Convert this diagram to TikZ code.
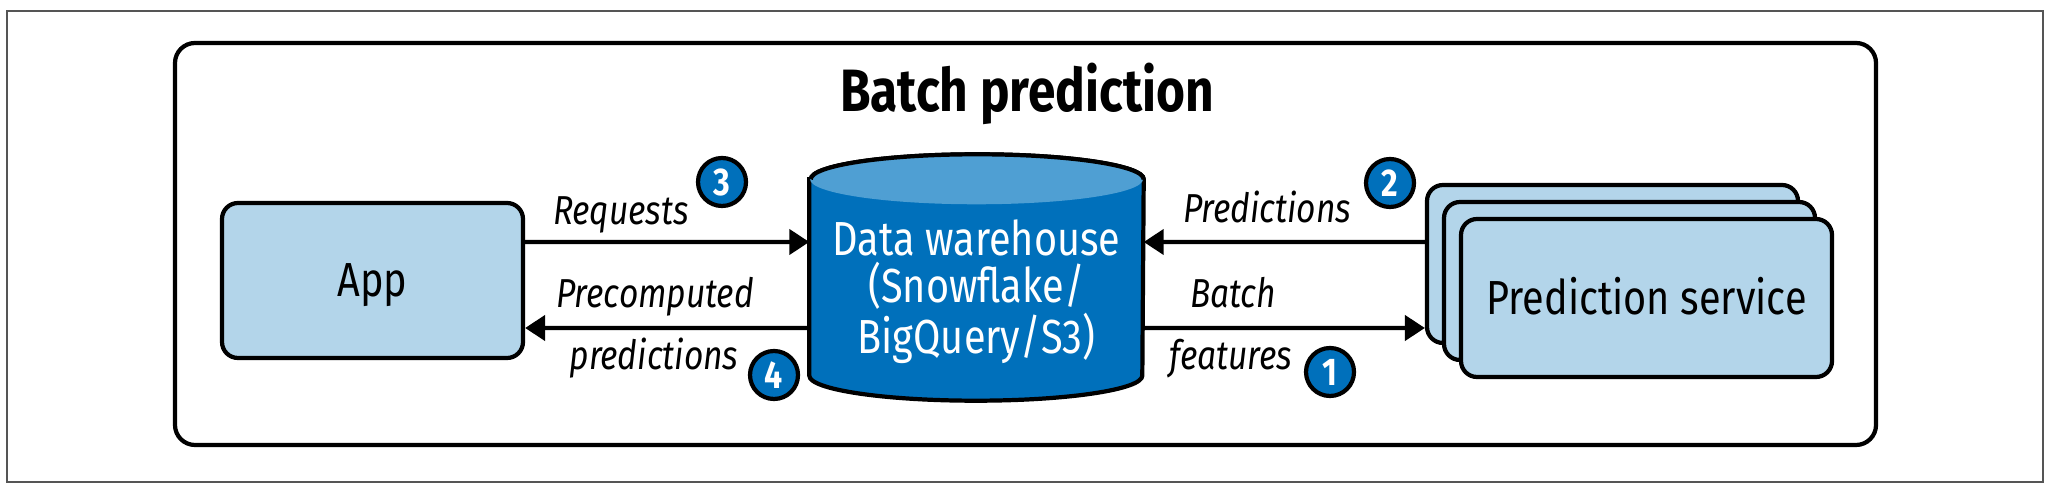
\documentclass[tikz,border=0pt]{standalone}
\usepackage{fontspec}
\setmainfont{Fira Sans}[FakeStretch=0.83]
\usetikzlibrary{arrows.meta}

\definecolor{appblue}{HTML}{B3D5EA}
\definecolor{dwblue}{HTML}{0070BB}
\definecolor{dwtop}{HTML}{4F9FD3}
\definecolor{framegray}{HTML}{555555}

\tikzset{
  box/.style={draw, line width=1.2pt, fill=appblue, rounded corners=0.16cm,
    text height=0.33cm, text depth=0pt, font=\fontsize{13.6}{16}\selectfont},
  flow/.style={line width=1.2pt, -{Triangle[length=0.2cm, width=0.25cm]}},
  lbl/.style={font=\fontsize{11.5}{13}\selectfont\itshape, anchor=base},
  num/.style={circle, draw, line width=1.2pt, fill=dwblue, text=white,
    minimum size=0.48cm, inner sep=0pt, font=\fontsize{11}{12}\selectfont\bfseries},
}

\begin{document}
\begin{tikzpicture}
    \useasboundingbox (0,0) rectangle (20.56,4.94);
    \draw[framegray, line width=0.5pt] (0.07,0.12) rectangle (20.43,4.83);
    \draw[line width=1.2pt, rounded corners=0.2cm] (1.75,0.49) rectangle (18.76,4.51);
    \node[font=\fontsize{17}{20}\selectfont\bfseries, anchor=base] (title) at (10.27,3.82) {Batch prediction};

    % --- App ---
    \node[box, minimum width=3.01cm, minimum height=1.55cm] (app) at (3.725,2.135) {App};

    % --- Data warehouse (cylinder) ---
    \node[minimum width=3.33cm, minimum height=2.45cm, inner sep=0pt] (dw) at (9.765,2.165) {};
    \path[fill=dwblue, draw, line width=1.2pt] ([yshift=-2.5mm]dw.north west) -- ([yshift=2.5mm]dw.south west)
        arc[start angle=180, end angle=360, x radius=1.665cm, y radius=0.25cm]
        -- ([yshift=-2.5mm]dw.north east)
        arc[start angle=0, end angle=180, x radius=1.665cm, y radius=0.25cm] -- cycle;
    \fill[dwtop] ([yshift=-2.5mm]dw.north) ellipse[x radius=1.665cm, y radius=0.25cm];
    \draw[line width=1.2pt] ([yshift=-2.5mm]dw.north east) arc[start angle=0, end angle=180, x radius=1.665cm, y radius=0.25cm];
    \node[text=white, align=center, font=\fontsize{13.6}{13.4}\selectfont] (dwtext) at (9.765,2.02)
        {Data warehouse\\(Snowflake/\\BigQuery/S3)};

    % --- Prediction service (stack) ---
    \node[box, minimum width=3.71cm, minimum height=1.58cm] (svcback) at (16.125,2.30) {};
    \node[box, minimum width=3.71cm, minimum height=1.58cm] (svcmid) at (16.295,2.13) {};
    \node[box, minimum width=3.71cm, minimum height=1.58cm] (svc) at (16.465,1.96) {Prediction service};

    % --- Connectors ---
    \draw[flow] ([yshift=3.85mm]app.east) -- ([yshift=3.55mm]dw.west);
    \draw[flow] ([yshift=-5.05mm]dw.west) -- ([yshift=-4.75mm]app.east);
    \draw[flow] ([yshift=2.2mm]svcback.west) -- ([yshift=3.55mm]dw.east);
    \draw[flow] ([yshift=-5.05mm]dw.east) -- ([yshift=-6.4mm]svcback.west);

    % --- Labels ---
    \node[lbl] (reqlbl) at (6.21,2.69) {Requests};
    \node[lbl] (prelbl) at (6.55,1.86) {Precomputed};
    \node[lbl] (prelbltwo) at (6.54,1.24) {predictions};
    \node[lbl] (predlbl) at (12.67,2.71) {Predictions};
    \node[lbl] (batchlbl) at (12.33,1.86) {Batch};
    \node[lbl] (featlbl) at (12.31,1.24) {features};

    % --- Step numbers ---
    \node[num] (stepone) at (13.30,1.22) {1};
    \node[num] (steptwo) at (13.90,3.11) {2};
    \node[num] (stepthree) at (7.22,3.12) {3};
    \node[num] (stepfour) at (7.74,1.19) {4};
\end{tikzpicture}
\end{document}
